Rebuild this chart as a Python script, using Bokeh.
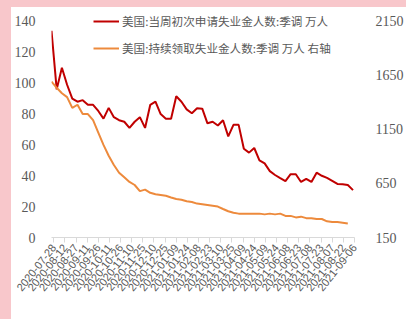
import pandas as pd
from datetime import datetime
from bokeh.plotting import figure
from bokeh.layouts import column, row
from bokeh.models import (Range1d, LinearAxis, FixedTicker, DatetimeTickFormatter,
                          Legend, LegendItem, ColumnDataSource, Spacer)
from bokeh.embed import file_html
from bokeh.resources import INLINE

# weekly observation dates (week ending)
weeks = pd.date_range("2020-07-25", periods=59, freq="7D")

# 美国:当周初次申请失业金人数:季调 (万人, left axis)
initial_claims = [134, 96, 110, 99, 90, 88, 89, 86, 86, 82, 77, 84, 78, 76, 75, 71, 75, 78, 71,
                  86, 88, 80, 77, 77, 91.5, 88, 83, 80.5, 83.7, 83.5, 74, 75, 72.6, 76, 65.5,
                  73, 73, 57.5, 55, 58, 50, 48, 43, 40.5, 38.5, 36.6, 41, 41, 36, 38, 36, 42,
                  40, 38.6, 36.7, 34.7, 34.5, 34, 30.7]

# 美国:持续领取失业金人数:季调 (万人, right axis) - one week lag
continuing_claims = [1593, 1536, 1486, 1450, 1350, 1379, 1293, 1293, 1236, 1121, 1007, 907, 821,
                     750, 707, 664, 636, 579, 593, 564, 550, 543, 536, 521, 507, 500, 486, 479,
                     464, 457, 450, 443, 436, 414, 393, 379, 371, 371, 371, 371, 371, 364, 371,
                     364, 371, 350, 350, 336, 343, 329, 329, 321, 321, 300, 293, 293, 286, 279]

tick_labels = ["2020-07-28", "2020-08-12", "2020-08-27", "2020-09-11", "2020-09-26",
               "2020-10-11", "2020-10-26", "2020-11-10", "2020-11-25", "2020-12-10",
               "2020-12-25", "2021-01-09", "2021-01-24", "2021-02-08", "2021-02-23",
               "2021-03-10", "2021-03-25", "2021-04-09", "2021-04-24", "2021-05-09",
               "2021-05-24", "2021-06-08", "2021-06-23", "2021-07-08", "2021-07-23",
               "2021-08-07", "2021-08-22", "2021-09-06"]

left_ticks = [0, 20, 40, 60, 80, 100, 120, 140]
right_ticks = [150, 650, 1150, 1650, 2150]

series_names = ["美国:当周初次申请失业金人数:季调 万人", "美国:持续领取失业金人数:季调 万人 右轴"]

RED = "#C00000"
ORANGE = "#ED8A3C"
TXT = "#595959"
PINK = "#F8C7CB"
NUM_FONT = "Liberation Sans Narrow"

fig = figure(width=395, height=312, output_backend="svg", toolbar_location=None,
             x_axis_type="datetime",
             x_range=Range1d(datetime(2020, 7, 25), datetime(2021, 9, 6)),
             y_range=Range1d(0, 148.4),
             min_border_left=39, min_border_right=38, min_border_top=1, min_border_bottom=82)
fig.extra_y_ranges = {"right": Range1d(150, 2270)}
fig.outline_line_color = None
fig.xgrid.visible = False
fig.ygrid.visible = False
fig.background_fill_color = "white"
fig.border_fill_color = "white"

src1 = ColumnDataSource(dict(d=list(weeks), v=initial_claims))
src2 = ColumnDataSource(dict(d=list(weeks[:len(continuing_claims)]), v=continuing_claims))
r1 = fig.line("d", "v", source=src1, line_color=RED, line_width=2)
r2 = fig.line("d", "v", source=src2, line_color=ORANGE, line_width=2, y_range_name="right")

# x axis
xa = fig.xaxis[0]
xa.ticker = FixedTicker(ticks=[pd.Timestamp(t).value / 1e6 for t in tick_labels])
fmt = "%Y-%m-%d"
xa.formatter = DatetimeTickFormatter(days=fmt, months=fmt, years=fmt, hours=fmt,
                                     hourmin=fmt, minutes=fmt, minsec=fmt, seconds=fmt,
                                     milliseconds=fmt, microseconds=fmt)
xa.major_label_orientation = 0.9
xa.axis_line_color = "#D9D9D9"
xa.major_tick_line_color = "#D9D9D9"
xa.major_tick_out = 5
xa.major_tick_in = 0
xa.minor_tick_line_color = None
xa.major_label_text_font_size = "11px"
xa.major_label_text_color = TXT
xa.major_label_text_font = "Liberation Sans"
xa.major_label_standoff = 3

# left axis
ya = fig.yaxis[0]
ya.ticker = FixedTicker(ticks=left_ticks)
ya.axis_line_color = None
ya.major_tick_line_color = None
ya.minor_tick_line_color = None
ya.major_label_text_font_size = "14px"
ya.major_label_text_font = NUM_FONT
ya.major_label_text_color = TXT
ya.major_label_standoff = 10

# right axis
yr = LinearAxis(y_range_name="right", ticker=FixedTicker(ticks=right_ticks))
yr.axis_line_color = None
yr.major_tick_line_color = None
yr.minor_tick_line_color = None
yr.major_label_text_font_size = "14px"
yr.major_label_text_font = NUM_FONT
yr.major_label_text_color = TXT
yr.major_label_standoff = 15
fig.add_layout(yr, "right")

legend = Legend(items=[LegendItem(label=series_names[0], renderers=[r1]),
                       LegendItem(label=series_names[1], renderers=[r2])],
                location=(42, 179), padding=0, margin=0, spacing=7,
                glyph_width=26, glyph_height=20, label_height=20, label_standoff=3,
                background_fill_alpha=0, border_line_alpha=0,
                label_text_font_size="11.6px", label_text_color=TXT,
                label_text_font="Noto Sans CJK SC")
fig.add_layout(legend)

# pink page edge (top strip and left strip) around the chart
top_strip = Spacer(width=406, height=7, styles={"background-color": PINK})
left_strip = Spacer(width=11, height=312, styles={"background-color": PINK})
p = column(top_strip, row(left_strip, fig, spacing=0), spacing=0)

open("out.html", "w").write(file_html(p, INLINE))
